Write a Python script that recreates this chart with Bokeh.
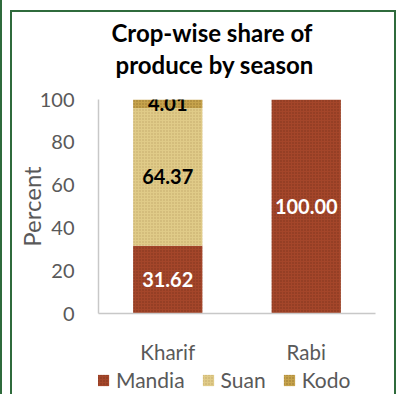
from bokeh.plotting import figure
from bokeh.layouts import column
from bokeh.models import (ColumnDataSource, LabelSet, Legend, LegendItem,
                          Title, Range1d, FactorRange)
from bokeh.core.properties import value
from bokeh.embed import file_html
from bokeh.resources import INLINE

# Share of produce (%) per season, stacked by crop
seasons = ["Kharif", "Rabi"]
crops = ["Mandia", "Suan", "Kodo"]
mandia = [31.62, 100.00]
suan = [64.37, 0.0]
kodo = [4.01, 0.0]
y_ticks = [0, 20, 40, 60, 80, 100]

FONT = "Lato"
GREY = "#595959"
GREEN = "#2F6B3C"

src = ColumnDataSource(dict(season=seasons, Mandia=mandia, Suan=suan, Kodo=kodo))

# Bar look: flat fill plus a fine speckle hatch for grain
fills = ["#A4462A", "#E0CB88", "#C6A34C"]
hatch_cols = ["#5E2412", "#A88C4E", "#6E5218"]
bar_style = dict(x="season", width=0.5, source=src, color=fills, line_color=None,
                 hatch_pattern=".", hatch_scale=3, hatch_color=hatch_cols,
                 hatch_alpha=0.55)

p = figure(x_range=seasons, y_range=Range1d(0, 100), width=400, height=366,
           output_backend="svg", toolbar_location=None, title=None,
           min_border_left=98, min_border_right=25, min_border_top=99,
           min_border_bottom=46)
p.outline_line_color = None
p.background_fill_color = "white"
p.border_fill_alpha = 0

renderers = p.vbar_stack(crops, **bar_style)

# Segment value labels at segment midpoints
lab = dict(x=[], y=[], text=[], color=[])
for i, s in enumerate(seasons):
    base = 0.0
    for c, col in zip(crops, [mandia, suan, kodo]):
        v = col[i]
        if v > 0:
            lab["x"].append(s)
            lab["y"].append(base + v / 2)
            lab["text"].append(f"{v:.2f}")
            lab["color"].append("white" if c == "Mandia" else "black")
        base += v
lsrc = ColumnDataSource(lab)
p.add_layout(LabelSet(x="x", y="y", text="text", source=lsrc,
                      text_color="color", text_align="center",
                      text_baseline="middle", text_font=value(FONT),
                      text_font_style="bold", text_font_size="20px"))

# Axes
p.yaxis.ticker = y_ticks
p.yaxis.axis_label = "Percent"
p.yaxis.axis_label_text_font = FONT
p.yaxis.axis_label_text_font_style = "normal"
p.yaxis.axis_label_text_font_size = "24px"
p.yaxis.axis_label_text_color = GREY
p.yaxis.axis_label_standoff = -9
for ax in (p.xaxis, p.yaxis):
    ax.major_label_text_font = FONT
    ax.major_label_text_color = GREY
    ax.axis_line_color = "#C8C8C8"
    ax.axis_line_width = 1.5
    ax.major_tick_line_color = None
    ax.minor_tick_line_color = None
p.yaxis.major_label_text_font_size = "20px"
p.xaxis.major_label_text_font_size = "20.5px"
p.yaxis.major_label_standoff = 18
p.xaxis.major_label_standoff = 20
p.xgrid.grid_line_color = None
p.ygrid.grid_line_color = None

# Two-line title; a blank title nearest the frame acts as spacing
p.add_layout(Title(text=" ", text_font_size="1px", standoff=17), "above")
p.add_layout(Title(text="produce by season", align="left", offset=17,
                   text_font=FONT, text_font_style="bold", text_font_size="24px",
                   text_color="black", standoff=1), "above")
p.add_layout(Title(text="Crop-wise share of", align="left", offset=13,
                   text_font=FONT, text_font_style="bold", text_font_size="24px",
                   text_color="black", standoff=1), "above")

# Legend strip under the chart; its swatches come from bars kept out of view
q = figure(x_range=FactorRange(*seasons), y_range=Range1d(1000, 1001), width=400,
           height=28, output_backend="svg", toolbar_location=None, title=None,
           min_border=0, x_axis_location=None, y_axis_location=None)
q.outline_line_color = None
q.background_fill_alpha = 0
q.border_fill_alpha = 0
q.xgrid.grid_line_color = None
q.ygrid.grid_line_color = None
swatches = q.vbar_stack(crops, **bar_style)
legend = Legend(items=[LegendItem(label=c, renderers=[r]) for c, r in zip(crops, swatches)],
                orientation="horizontal", location=(-2, 2),
                label_text_font=FONT, label_text_font_size="21px",
                label_text_color=GREY, glyph_width=14, glyph_height=14,
                label_standoff=6, spacing=16, padding=0, margin=0,
                border_line_color=None, background_fill_alpha=0)
q.add_layout(legend, "center")

layout = column(p, q, spacing=0)
# Green chart-area border, painted as inset shadows behind the transparent canvases
layout.styles = {
    "background-color": "white",
    "box-shadow": ", ".join([
        f"inset 2px 0 0 0 {GREEN}",
        "inset 10px 0 0 0 white",
        "inset 0 10px 0 0 white",
        "inset -4px 0 0 0 white",
        f"inset 12px 0 0 0 {GREEN}",
        f"inset 0 12px 0 0 {GREEN}",
        f"inset -6px 0 0 0 {GREEN}",
    ]),
}

open("out.html", "w").write(file_html(layout, INLINE))
